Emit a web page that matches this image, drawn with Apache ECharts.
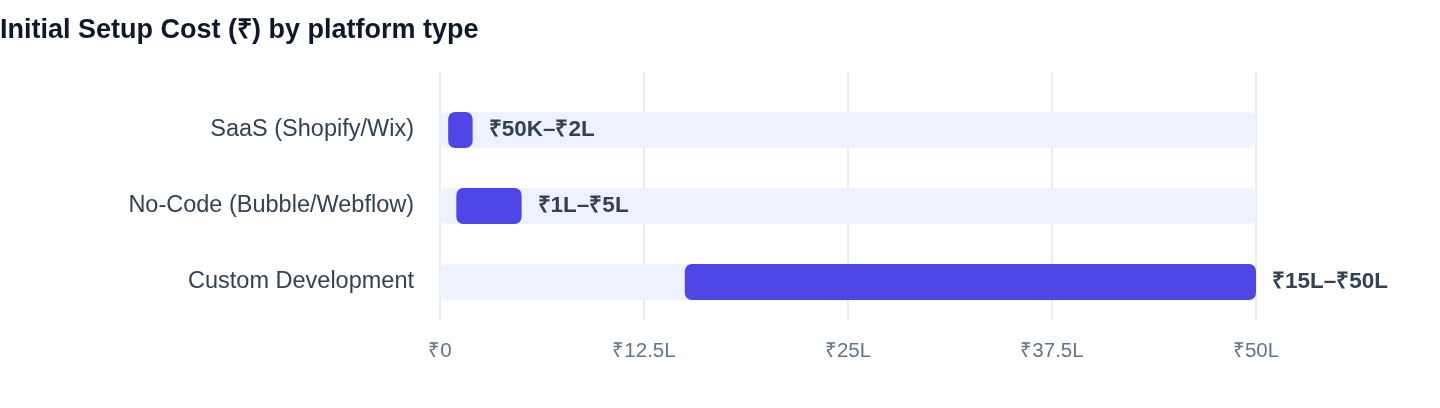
<!DOCTYPE html>
<html>
<head>
<meta charset="utf-8">
<script src="https://cdn.jsdelivr.net/npm/echarts@6/dist/echarts.min.js"></script>
<style>
  html, body { margin: 0; padding: 0; background: #fff; }
  #main { width: 1440px; height: 408px; }
</style>
</head>
<body>
<div id="main"></div>
<script>
// data, lakh rupees
var categories = ['SaaS (Shopify/Wix)', 'No-Code (Bubble/Webflow)', 'Custom Development'];
var costLow = [0.5, 1, 15];
var costHigh = [2, 5, 50];
var rangeLabels = ['₹50K–₹2L', '₹1L–₹5L', '₹15L–₹50L'];
var axisMax = 50;
var tickStep = 12.5;

var font = '"Liberation Sans", Arial, Helvetica, sans-serif';
var myChart = echarts.init(document.getElementById('main'));

var trackData = categories.map(function () { return axisMax; });
var spanData = costHigh.map(function (v, i) { return v - costLow[i]; });

var option = {
	animation: false,
	textStyle: { fontFamily: font },
	title: {
		text: 'Initial Setup Cost (₹) by platform type',
		left: 0,
		top: 17,
		padding: 0,
		textStyle: { fontFamily: font, fontSize: 27, fontWeight: 'bold', color: '#0f172a' }
	},
	grid: [
		{ left: 440, right: 184, top: 72, bottom: 88 },
		{ left: 440, right: 184, top: 92, bottom: 88 }
	],
	xAxis: [
		{
			gridIndex: 0,
			type: 'value',
			min: 0,
			max: axisMax,
			interval: tickStep,
			axisLine: { show: false },
			axisTick: { show: false },
			splitLine: { lineStyle: { color: '#e2e8f0', width: 1.5 } },
			axisLabel: {
				margin: 21,
				fontSize: 20.5,
				color: '#64748b',
				fontFamily: font,
				formatter: function (v) { return v === 0 ? '₹0' : '₹' + v + 'L'; }
			}
		},
		{
			gridIndex: 1,
			type: 'value',
			min: 0,
			max: axisMax,
			show: false
		}
	],
	yAxis: [
		{ gridIndex: 0, type: 'category', data: categories, show: false },
		{
			gridIndex: 1,
			type: 'category',
			data: categories,
			inverse: true,
			axisLine: { show: false },
			axisTick: { show: false },
			axisLabel: { margin: 26, fontSize: 23.5, color: '#334155', fontFamily: font }
		}
	],
	series: [
		{
			name: 'track',
			type: 'bar',
			xAxisIndex: 1,
			yAxisIndex: 1,
			data: trackData,
			barWidth: 36,
			barGap: '-100%',
			silent: true,
			itemStyle: { color: '#eef2ff', borderRadius: 7 },
			z: 1
		},
		{
			name: 'base',
			type: 'bar',
			xAxisIndex: 1,
			yAxisIndex: 1,
			stack: 'range',
			data: costLow,
			barWidth: 36,
			barGap: '-100%',
			itemStyle: { color: 'transparent' },
			z: 2
		},
		{
			name: 'cost',
			type: 'bar',
			xAxisIndex: 1,
			yAxisIndex: 1,
			stack: 'range',
			data: spanData,
			barWidth: 36,
			barGap: '-100%',
			itemStyle: { color: '#4f46e5', borderRadius: 7 },
			label: {
				show: true,
				position: 'right',
				distance: 16,
				fontFamily: font,
				fontSize: 22.5,
				fontWeight: 'bold',
				color: '#334155',
				formatter: function (p) { return rangeLabels[p.dataIndex]; }
			},
			z: 3
		}
	]
};

myChart.setOption(option);
</script>
</body>
</html>
